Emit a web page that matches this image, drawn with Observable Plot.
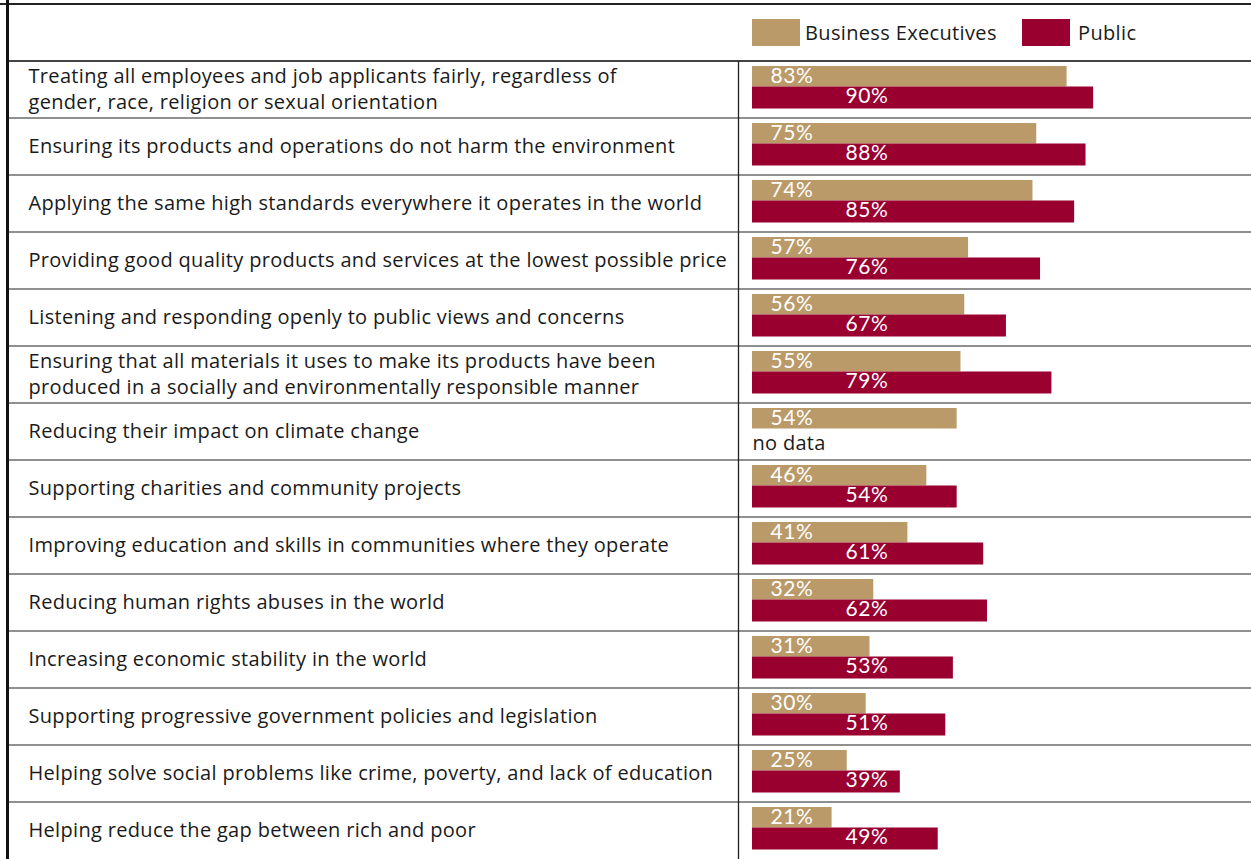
<!DOCTYPE html>
<html><head><meta charset="utf-8">
<script src="https://cdn.jsdelivr.net/npm/d3@7"></script>
<script src="https://cdn.jsdelivr.net/npm/@observablehq/plot@0.6"></script>
<style>
body{margin:0;background:#fff;}
#wrap{position:relative;width:1251px;height:859px;overflow:hidden;}
.sw{position:absolute;width:48px;height:27px;top:19px;}
.lg{position:absolute;top:18px;font-family:"Open Sans",sans-serif;font-size:20px;letter-spacing:0.35px;line-height:29px;color:#1a1a1a;}
</style></head><body><div id="wrap"></div>
<script>
const categories = [
  "Treating all employees and job applicants fairly, regardless of\ngender, race, religion or sexual orientation",
  "Ensuring its products and operations do not harm the environment",
  "Applying the same high standards everywhere it operates in the world",
  "Providing good quality products and services at the lowest possible price",
  "Listening and responding openly to public views and concerns",
  "Ensuring that all materials it uses to make its products have been\nproduced in a socially and environmentally responsible manner",
  "Reducing their impact on climate change",
  "Supporting charities and community projects",
  "Improving education and skills in communities where they operate",
  "Reducing human rights abuses in the world",
  "Increasing economic stability in the world",
  "Supporting progressive government policies and legislation",
  "Helping solve social problems like crime, poverty, and lack of education",
  "Helping reduce the gap between rich and poor"
];
const businessValues = [83, 75, 74, 57, 56, 55, 54, 46, 41, 32, 31, 30, 25, 21];
const publicValues   = [90, 88, 85, 76, 67, 79, null, 54, 61, 62, 53, 51, 39, 49];
const seriesNames = ["Business Executives", "Public"];
const seriesColors = ["#BB9A6A", "#990030"];
const noDataLabel = "no data";

const biz = categories.map((c, i) => ({cat: c, series: seriesNames[0], value: businessValues[i]}));
const pub = categories.map((c, i) => ({cat: c, series: seriesNames[1], value: publicValues[i]}));
const pubHas = pub.filter(d => d.value != null);
const pubNo = pub.filter(d => d.value == null);

const pctFont = "Lato, 'Open Sans', sans-serif";

const plot = Plot.plot({
  width: 1251, height: 859,
  marginLeft: 752, marginRight: 120, marginTop: 61, marginBottom: 0,
  x: {domain: [0, 100], axis: null},
  y: {domain: categories, axis: null, padding: 0},
  color: {domain: seriesNames, range: seriesColors},
  style: {fontFamily: "'Open Sans', sans-serif", background: "white", overflow: "visible"},
  marks: [
    Plot.barX(biz, {x: "value", y: "cat", fill: "series", insetTop: 5, insetBottom: 31.5}),
    Plot.barX(pubHas, {x: "value", y: "cat", fill: "series", insetTop: 25.5, insetBottom: 9.5}),
    Plot.text(biz, {x: d => 0, y: "cat", text: d => d.value + "%", dx: 18, dy: -7,
      textAnchor: "start", lineAnchor: "bottom", fill: "white", fontSize: 21, fontFamily: pctFont}),
    Plot.text(pubHas, {x: d => 0, y: "cat", text: d => d.value + "%", dx: 93, dy: 12.5,
      textAnchor: "start", lineAnchor: "bottom", fill: "white", fontSize: 21, fontFamily: pctFont}),
    Plot.text(pubNo, {x: d => 0, y: "cat", text: d => noDataLabel, dx: 0, dy: 17.5,
      textAnchor: "start", lineAnchor: "bottom", fill: "#1a1a1a", fontSize: 20}),
    Plot.text(categories, {y: d => d, text: d => d, frameAnchor: "left", dx: -724, dy: -2.5,
      textAnchor: "start", lineAnchor: "middle", lineHeight: 1.3, fill: "#1a1a1a", fontSize: 20})
  ]
});

const svg = d3.select(plot);
const textGroups = svg.selectAll("g[aria-label='text']").nodes();
d3.select(textGroups[textGroups.length - 1]).style("letter-spacing", "0.32px");
d3.select(textGroups[textGroups.length - 2]).style("letter-spacing", "0.3px");
d3.select(textGroups[0]).style("letter-spacing", "0.6px");
d3.select(textGroups[1]).style("letter-spacing", "0.6px");

// table rules
const ys = plot.scale("y");
const g = svg.append("g").attr("stroke", "#222").attr("fill", "none");
categories.forEach((c, i) => {
  const y = ys.apply(c);
  g.append("line").attr("x1", 6).attr("x2", 1251).attr("y1", y).attr("y2", y)
    .attr("stroke-width", i === 0 ? 2 : 1.2).attr("stroke", i === 0 ? "#444" : "#222");
});
g.append("line").attr("x1", 0).attr("x2", 1251).attr("y1", 4).attr("y2", 4).attr("stroke-width", 2);
g.append("line").attr("x1", 7.5).attr("x2", 7.5).attr("y1", 0).attr("y2", 859).attr("stroke-width", 3).attr("stroke", "#111");
g.append("line").attr("x1", 738.5).attr("x2", 738.5).attr("y1", ys.apply(categories[0])).attr("y2", 859).attr("stroke-width", 1.3);

const wrap = document.getElementById("wrap");
wrap.appendChild(plot);
const swX = [752, 1022], txX = [805, 1078];
seriesNames.forEach((s, i) => {
  const sw = document.createElement("div");
  sw.className = "sw"; sw.style.left = swX[i] + "px"; sw.style.background = seriesColors[i];
  const t = document.createElement("div");
  t.className = "lg"; t.style.left = txX[i] + "px"; t.textContent = s;
  wrap.appendChild(sw); wrap.appendChild(t);
});
plot.style.position = "absolute"; plot.style.left = "0"; plot.style.top = "0";
</script></body></html>
